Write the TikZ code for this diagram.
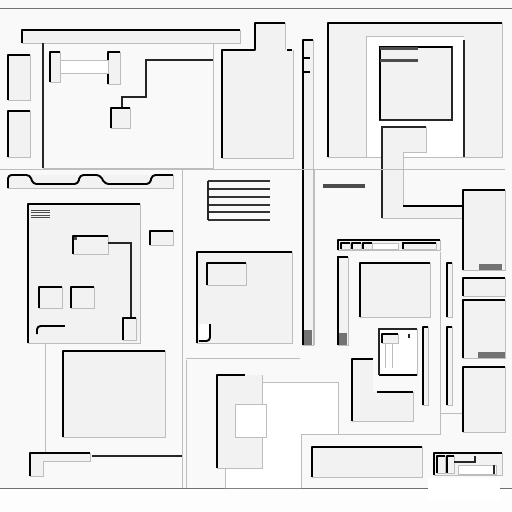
\documentclass[tikz,border=0pt]{standalone}
\usetikzlibrary{patterns}
\definecolor{bgc}{gray}{0.978}
\definecolor{recc}{gray}{0.948}
\definecolor{litc}{gray}{0.74}
\tikzset{
  rf/.style={fill=recc},
  wf/.style={fill=white},
  dk/.style={draw=black, line width=1.1pt, line join=round},
  dkthin/.style={draw=black!85, line width=0.6pt},
  lt/.style={draw=litc, line width=0.35pt},
  hatch/.style={fill=black!55},
}
\newcommand\recbox[4]{%
  \fill[rf] (#1,#2) rectangle (#3,#4);
  \draw[lt] (#3,#2)--(#3,#4)--(#1,#4);
  \draw[dk] (#1,#4)--(#1,#2)--(#3,#2);}
\newcommand\upbox[4]{%
  \fill[wf] (#1,#2) rectangle (#3,#4);
  \draw[lt] (#1,#2) rectangle (#3,#4);}
\begin{document}
\begin{tikzpicture}[x=0.02cm,y=-0.02cm]
\useasboundingbox (0,0) rectangle (512,512);
\fill[bgc] (0,0) rectangle (512,512);
% frame
\draw[litc!60!black, line width=0.5pt] (0,8)--(512,8);
\draw[litc!60!black, line width=0.5pt] (0,488)--(512,488);
\fill[white!60!bgc] (0,489) rectangle (512,512);
% ===== top-left =====
\recbox{22}{30}{240}{43}
\draw[dkthin] (43,43)--(43,168);
\draw[lt] (213,43)--(213,168)--(43,168);
\recbox{8}{55}{30}{100}
\recbox{8}{111}{30}{157}
\recbox{50}{52}{60}{82}
\recbox{108}{52}{120}{84}
\upbox{60}{60}{108}{73}
\draw[dkthin] (213,60)--(146,60)--(146,97)--(122,97)--(122,108);
\recbox{111}{108}{130}{128}
% tab box
\fill[rf] (222,50)--(255,50)--(255,23)--(285,23)--(285,50)--(293,50)--(293,158)--(222,158)--cycle;
\draw[lt] (293,50)--(293,158)--(222,158);
\draw[dk] (222,158)--(222,50)--(255,50)--(255,23)--(285,23);
\draw[lt] (285,23)--(285,50);
\draw[dk] (287,50)--(292,50);
% strip
\recbox{303}{40}{313}{345}
\foreach \yy in {58,72} \draw[dk] (303,\yy)--(310,\yy);
\draw[dk] (303,100)--(303,122);
\fill[hatch] (304,330) rectangle (312,345);
% top-right
\recbox{328}{23}{502}{157}
\fill[white] (366,36) rectangle (464,157);
\draw[lt] (366,36)--(464,36);
\draw[dkthin] (464,40)--(464,157);
\draw[lt] (366,36)--(366,157);
\fill[recc] (380,47) rectangle (452,120);
\draw[dkthin] (380,47) rectangle (452,120);
\draw[dk] (380,120)--(380,47)--(452,47);
\fill[black!70] (380,47) rectangle (418,49.5);
\fill[black!70] (380,59) rectangle (418,61.5);
% C-shape gray
\fill[rf] (382,127)--(426,127)--(426,152)--(403,152)--(403,206)--(463,206)--(463,218)--(382,218)--cycle;
\draw[dkthin] (382,218)--(382,127)--(426,127);
\draw[lt] (426,127)--(426,152)--(403,152)--(403,206);
\draw[dk] (403,206)--(463,206);
\draw[lt] (463,218)--(382,218);
% separator
\draw[lt] (0,169)--(505,169);
% ===== middle-left =====
\fill[rf] (8,175) rectangle (173,188);
\draw[lt] (173,175)--(173,188)--(8,188);
\draw[dk, rounded corners=2pt] (8,188)--(8,175)--(30,175)--(33,184)--(78,184)--(80,175)--(100,175)--(105,184)--(150,184)--(152,175)--(173,175);
\recbox{28}{204}{140}{343}
\foreach \yy in {210,212.5,215,217.5} \draw[black!70, line width=0.4pt] (31,\yy)--(50,\yy);
\recbox{73}{236}{108}{254}
\fill[black!70] (74,237) rectangle (77,240);
\draw[dkthin] (108,243)--(131,243)--(131,318);
\recbox{123}{318}{136}{340}
\recbox{39}{287}{62}{308}
\recbox{71}{287}{94}{308}
\fill[rf, rounded corners=2pt] (37,326) rectangle (65,334);
\draw[dk, rounded corners=2pt] (37,334)--(37,326)--(65,326);
\recbox{150}{231}{173}{245}
\draw[lt] (182,170)--(182,488);
% ===== middle column =====
\foreach \yy in {181,189,197,205,212,220} \draw[black!80, line width=0.6pt] (208,\yy)--(270,\yy);
\draw[dkthin] (208,181)--(208,220);
\recbox{197}{252}{292}{343}
\draw[black, line width=1.5pt] (197,252)--(292,252);
\recbox{207}{263}{246}{285}
\fill[white, rounded corners=2pt] (199,324) rectangle (210,341);
\draw[dk, rounded corners=2pt] (199,341)--(210,341)--(210,324);
% ===== middle-right =====
\draw[lt] (314,170)--(314,345);
\fill[black!70] (323,184) rectangle (365,188);
\recbox{338}{240}{440}{250}
\foreach \xa/\xb in {341/350,352/361,363/372} \recbox{\xa}{243}{\xb}{249}
\upbox{372}{243}{398}{249}
\recbox{403}{243}{436}{249}
\recbox{338}{257}{348}{345}
\fill[hatch] (339,333) rectangle (347,345);
\recbox{360}{263}{430}{317}
\recbox{447}{263}{452}{317}
\recbox{447}{327}{452}{405}
\recbox{423}{327}{428}{405}
\upbox{379}{329}{417}{375}
\draw[dk] (379,375)--(417,375);
\draw[dkthin] (379,375)--(379,329)--(417,329);
\recbox{382}{334}{398}{343}
\draw[lt] (385,343)--(385,368);
\draw[lt] (392,343)--(392,368);
\draw[dkthin] (409,334)--(409,338);
\fill[rf] (352,359)--(373,359)--(373,392)--(413,392)--(413,421)--(352,421)--cycle;
\draw[dk] (352,421)--(352,359)--(373,359);
\draw[dk] (377,392)--(413,392);
\draw[lt] (413,392)--(413,421)--(352,421);
\draw[lt] (440,252)--(440,413)--(463,413);
\draw[lt] (301,434)--(440,434)--(440,413);
% right column
\recbox{463}{190}{505}{270}
\fill[hatch] (479,264) rectangle (502,270);
\recbox{463}{278}{505}{296}
\recbox{463}{300}{505}{358}
\fill[hatch] (478,352) rectangle (505,358);
\recbox{463}{367}{505}{432}
% ===== bottom-left =====
\draw[lt] (45,343)--(45,453);
\recbox{63}{351}{165}{437}
\fill[rf] (30,453)--(90,453)--(90,461)--(43,461)--(43,476)--(30,476)--cycle;
\draw[dk] (30,476)--(30,453)--(90,453);
\draw[lt] (90,453)--(90,461)--(43,461)--(43,476)--(30,476);
\draw[dkthin] (92,456)--(182,456);
% ===== bottom-middle =====
\draw[lt] (186,360)--(186,488);
\draw[lt] (186,358)--(300,358);
\fill[white] (262,382)--(338,382)--(338,434)--(301,434)--(301,488)--(225,488)--(225,468)--(262,468)--cycle;
\draw[lt] (262,382)--(338,382)--(338,434)--(301,434)--(301,488);
\draw[lt] (225,468)--(225,488);
\fill[recc] (217,375) rectangle (262,468);
\draw[dk] (217,468)--(217,375)--(245,375);
\draw[lt] (262,375)--(262,468)--(217,468);
\upbox{235}{404}{266}{437}
% bottom-right
\recbox{312}{447}{422}{477}
\fill[white] (428,478) rectangle (500,500);
\recbox{434}{453}{502}{475}
\recbox{437}{456}{445}{473}
\recbox{447}{456}{454}{473}
\draw[dkthin] (454,462)--(475,462)--(475,456);
\upbox{458}{465}{496}{474}
\draw[dkthin] (494,465)--(494,474);
\end{tikzpicture}
\end{document}
